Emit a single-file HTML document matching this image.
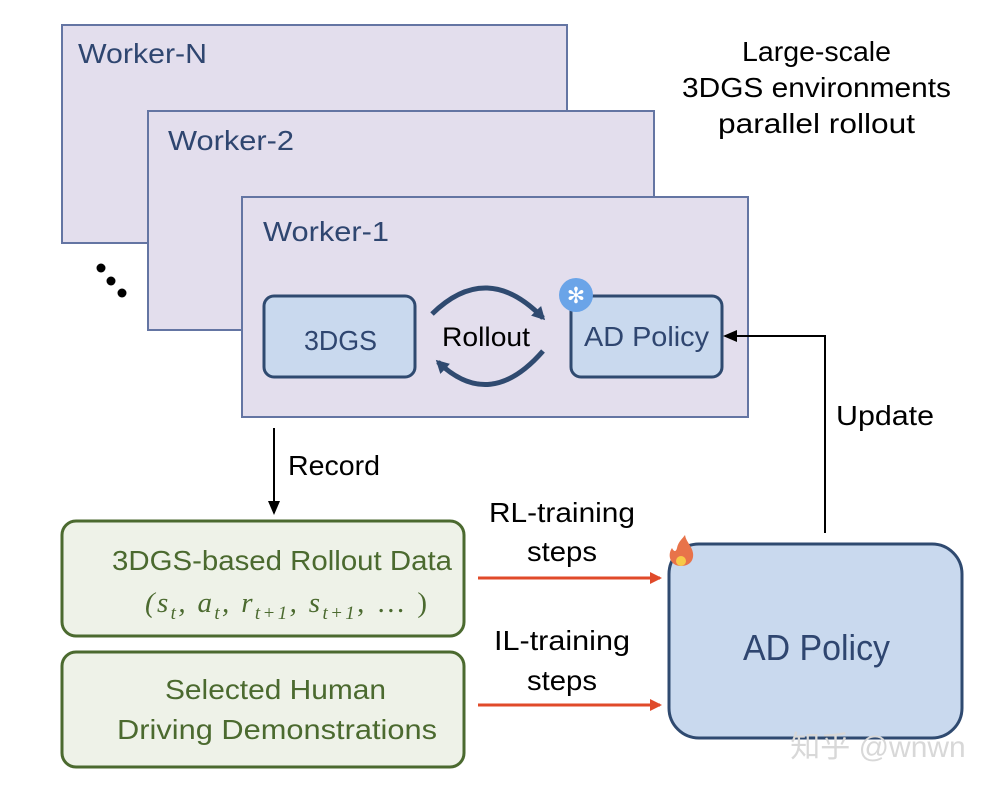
<!DOCTYPE html>
<html><head><meta charset="utf-8"><style>
html,body{margin:0;padding:0;background:#fff;}
svg{display:block;font-family:"Liberation Sans","Noto Sans CJK SC",sans-serif;}
</style></head><body>
<svg width="997" height="786" viewBox="0 0 997 786" xmlns="http://www.w3.org/2000/svg">
<defs>
<marker id="ab" markerWidth="14" markerHeight="14" refX="12" refY="7" orient="auto" markerUnits="userSpaceOnUse"><path d="M0,1 L14,7 L0,13 z" fill="#000"/></marker>
<marker id="ar" markerWidth="12" markerHeight="12" refX="10" refY="6" orient="auto" markerUnits="userSpaceOnUse"><path d="M0,0 L12,6 L0,12 z" fill="#e04a2a"/></marker>
<marker id="an" markerWidth="14" markerHeight="14" refX="10" refY="7" orient="auto" markerUnits="userSpaceOnUse"><path d="M0,0 L13,7 L0,14 z" fill="#2f4a70"/></marker>
</defs>
<rect x="62" y="25" width="505" height="218" fill="#e3deed" stroke="#6475a3" stroke-width="2"/>
<text x="78" y="63" font-size="28" fill="#2f4670" textLength="129" lengthAdjust="spacingAndGlyphs">Worker-N</text>
<rect x="148" y="111" width="506" height="219" fill="#e3deed" stroke="#6475a3" stroke-width="2"/>
<text x="168" y="150" font-size="28" fill="#2f4670" textLength="126" lengthAdjust="spacingAndGlyphs">Worker-2</text>
<rect x="242" y="197" width="506" height="220" fill="#e3deed" stroke="#6475a3" stroke-width="2"/>
<text x="263" y="241" font-size="28" fill="#2f4670" textLength="126" lengthAdjust="spacingAndGlyphs">Worker-1</text>
<circle cx="101" cy="268" r="4.5" fill="#000"/><circle cx="111" cy="281" r="4.5" fill="#000"/><circle cx="122" cy="293" r="4.5" fill="#000"/>
<text x="742" y="61" font-size="28" fill="#000" textLength="149" lengthAdjust="spacingAndGlyphs">Large-scale</text>
<text x="682" y="97" font-size="28" fill="#000" textLength="269" lengthAdjust="spacingAndGlyphs">3DGS environments</text>
<text x="718" y="133" font-size="28" fill="#000" textLength="197" lengthAdjust="spacingAndGlyphs">parallel rollout</text>
<rect x="264" y="296" width="151" height="81" rx="10" fill="#c9d9ee" stroke="#2f4a70" stroke-width="3"/>
<text x="304" y="350" font-size="28" fill="#2f4670" textLength="73" lengthAdjust="spacingAndGlyphs">3DGS</text>
<rect x="571" y="296" width="151" height="81" rx="10" fill="#c9d9ee" stroke="#2f4a70" stroke-width="3"/>
<text x="584" y="346" font-size="28" fill="#2f4670" textLength="125" lengthAdjust="spacingAndGlyphs">AD Policy</text>
<circle cx="576" cy="295" r="17" fill="#6aa4e8"/>
<text x="576" y="303" font-size="22" fill="#fff" text-anchor="middle">✻</text>
<path d="M432,314 Q487,260 543,318" fill="none" stroke="#2f4a70" stroke-width="5" marker-end="url(#an)"/>
<path d="M543,351 Q490,412 438,362" fill="none" stroke="#2f4a70" stroke-width="5" marker-end="url(#an)"/>
<text x="442" y="346" font-size="27" fill="#000" textLength="88" lengthAdjust="spacingAndGlyphs">Rollout</text>
<path d="M825,533 L825,336 L725,336" fill="none" stroke="#000" stroke-width="2" marker-end="url(#ab)"/>
<text x="836" y="425" font-size="28" fill="#000" textLength="98" lengthAdjust="spacingAndGlyphs">Update</text>
<path d="M274,428 L274,513" fill="none" stroke="#000" stroke-width="2" marker-end="url(#ab)"/>
<text x="288" y="475" font-size="28" fill="#000" textLength="92" lengthAdjust="spacingAndGlyphs">Record</text>
<rect x="62" y="521" width="402" height="115" rx="14" fill="#eef2e8" stroke="#4b6a2f" stroke-width="3"/>
<text x="112" y="570" font-size="28" fill="#4b6a2f" textLength="340" lengthAdjust="spacingAndGlyphs">3DGS-based Rollout Data</text>
<text x="145" y="612" font-size="29" fill="#4b6a2f" font-family="Liberation Serif,serif" font-style="italic" textLength="282" lengthAdjust="spacing">(s<tspan font-size="19" dy="7">t</tspan><tspan dy="-7">, a</tspan><tspan font-size="19" dy="7">t</tspan><tspan dy="-7">, r</tspan><tspan font-size="19" dy="7">t+1</tspan><tspan dy="-7">, s</tspan><tspan font-size="19" dy="7">t+1</tspan><tspan dy="-7" font-style="normal">, … )</tspan></text>
<rect x="62" y="652" width="402" height="115" rx="14" fill="#eef2e8" stroke="#4b6a2f" stroke-width="3"/>
<text x="165" y="699" font-size="28" fill="#4b6a2f" textLength="221" lengthAdjust="spacingAndGlyphs">Selected Human</text>
<text x="117" y="739" font-size="28" fill="#4b6a2f" textLength="320" lengthAdjust="spacingAndGlyphs">Driving Demonstrations</text>
<path d="M478,578 L660,578" stroke="#e04a2a" stroke-width="3" marker-end="url(#ar)"/>
<path d="M478,705 L660,705" stroke="#e04a2a" stroke-width="3" marker-end="url(#ar)"/>
<text x="489" y="522" font-size="28" fill="#000" textLength="146" lengthAdjust="spacingAndGlyphs">RL-training</text>
<text x="527" y="561" font-size="28" fill="#000" textLength="70" lengthAdjust="spacingAndGlyphs">steps</text>
<text x="494" y="650" font-size="28" fill="#000" textLength="136" lengthAdjust="spacingAndGlyphs">IL-training</text>
<text x="527" y="690" font-size="28" fill="#000" textLength="70" lengthAdjust="spacingAndGlyphs">steps</text>
<rect x="669" y="544" width="293" height="194" rx="30" fill="#c9d9ee" stroke="#2f4a70" stroke-width="3"/>
<text x="743" y="660" font-size="36" fill="#2f4670" textLength="147" lengthAdjust="spacingAndGlyphs">AD Policy</text>
<path d="M681,566 C670,566 667,555 672,548 C674,552 676,552 677,548 C678,542 683,538 685,535 C686,542 692,546 693,553 C694,560 690,566 681,566z" fill="#e8734a"/>
<ellipse cx="681" cy="561" rx="5" ry="5" fill="#f7c948"/>
<text x="878" y="757" font-size="30" fill="#d8d8d8" text-anchor="middle">知乎 @wnwn</text>
</svg>
</body></html>
